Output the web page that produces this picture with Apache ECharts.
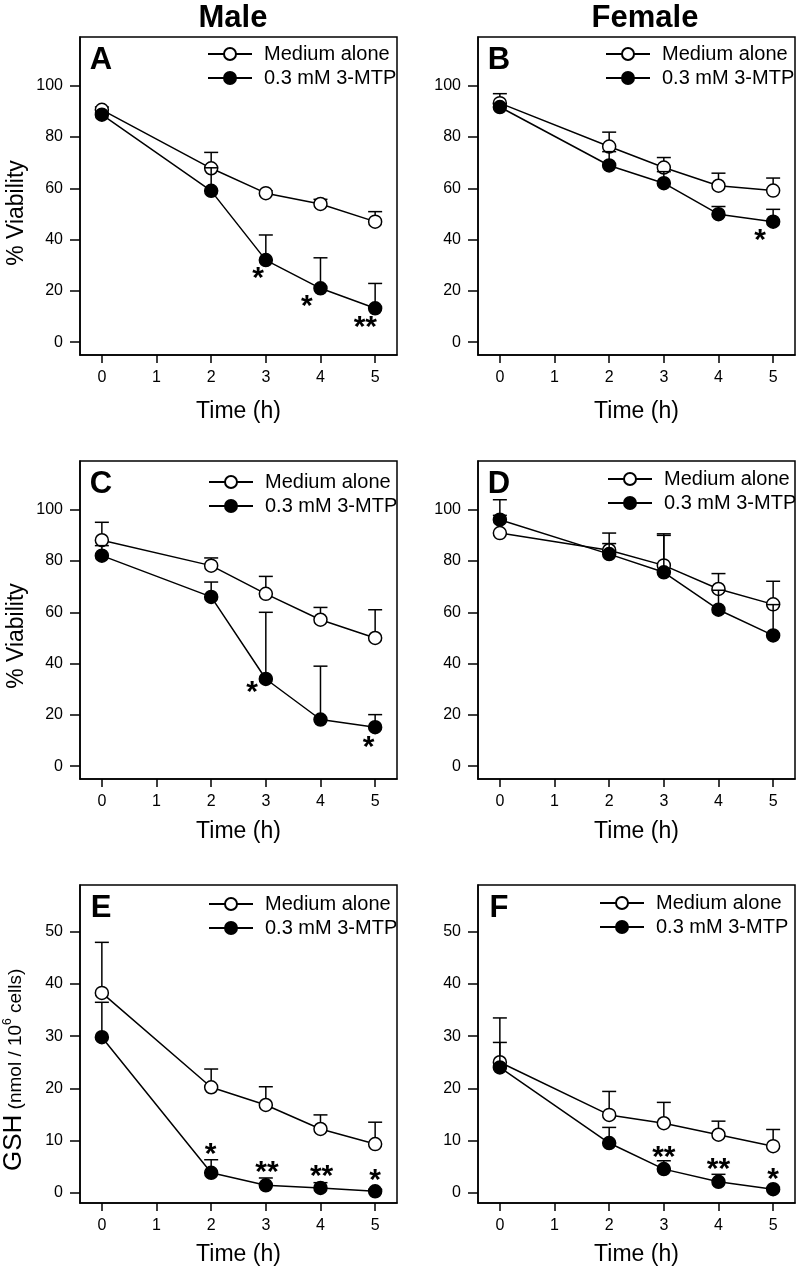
<!DOCTYPE html>
<html><head><meta charset="utf-8">
<script src="https://cdn.jsdelivr.net/npm/echarts@6/dist/echarts.min.js"></script>
<style>html,body{margin:0;padding:0;background:#fff}#c{width:800px;height:1278px}</style>
</head><body><div id="c"></div>
<script>
// ---------- data ----------
const times = [0, 2, 3, 4, 5];
const xTicks = [0, 1, 2, 3, 4, 5];
const viabilityTicks = [0, 20, 40, 60, 80, 100];
const gshTicks = [0, 10, 20, 30, 40, 50];
const seriesNames = ['Medium alone', '0.3 mM 3-MTP'];
const columnTitles = ['Male', 'Female'];
const panelLetters = ['A', 'B', 'C', 'D', 'E', 'F'];
const viabilityTitle = '% Viability';
const gshTitleParts = ['GSH', ' (nmol / 10', '6', ' cells)'];
const timeTitle = 'Time (h)';

// Panel A (male viability)
const A_medium = [90.6, 67.8, 58.1, 53.9, 47.0];
const A_medium_se = [1.1, 6.2, 0.9, 1.8, 3.9];
const A_mtp = [88.7, 59.0, 32.0, 21.0, 13.2];
const A_mtp_se = [0.8, 9.0, 9.8, 11.9, 9.7];
const A_star_x = [2.86, 3.75, 4.82];
const A_star_y = [26.8, 15.7, 7.5];
const A_star_text = ['*', '*', '**'];

// Panel B (female viability)
const B_medium = [93.2, 76.3, 68.1, 61.0, 59.1];
const B_medium_se = [3.7, 5.6, 3.9, 4.9, 4.9];
const B_mtp = [91.7, 68.9, 62.0, 49.9, 47.0];
const B_mtp_se = [1.3, 5.4, 4.5, 3.0, 4.8];
const B_star_x = [4.76];
const B_star_y = [41.5];
const B_star_text = ['*'];

// Panel C (male viability)
const C_medium = [88.1, 78.2, 67.2, 57.1, 50.0];
const C_medium_se = [7.0, 3.0, 6.8, 4.8, 11.0];
const C_mtp = [82.1, 66.0, 34.0, 18.2, 15.2];
const C_mtp_se = [3.9, 5.8, 26.0, 20.8, 4.9];
const C_star_x = [2.75, 4.88];
const C_star_y = [30.5, 9.1];
const C_star_text = ['*', '*'];

// Panel D (female viability)
const D_medium = [90.9, 84.2, 78.3, 69.1, 63.1];
const D_medium_se = [6.9, 2.6, 11.7, 6.0, 9.0];
const D_mtp = [96.1, 82.7, 75.6, 61.0, 51.0];
const D_mtp_se = [7.8, 8.2, 15.0, 7.6, 12.0];
const D_star_x = [];
const D_star_y = [];
const D_star_text = [];

// Panel E (male GSH)
const E_medium = [38.3, 20.2, 16.8, 12.2, 9.3];
const E_medium_se = [9.7, 3.5, 3.5, 2.7, 4.2];
const E_mtp = [29.8, 3.8, 1.4, 0.9, 0.25];
const E_mtp_se = [6.7, 2.5, 1.4, 1.0, 0.35];
const E_star_x = [1.99, 3.02, 4.02, 5.0];
const E_star_y = [8.3, 4.8, 4.0, 3.3];
const E_star_text = ['*', '**', '**', '*'];

// Panel F (female GSH)
const F_medium = [25.0, 14.9, 13.3, 11.1, 8.9];
const F_medium_se = [8.5, 4.5, 4.0, 2.6, 3.2];
const F_mtp = [24.0, 9.5, 4.5, 2.06, 0.65];
const F_mtp_se = [4.8, 3.0, 1.6, 1.44, 0.35];
const F_star_x = [3.0, 4.0, 5.0];
const F_star_y = [7.7, 5.3, 3.5];
const F_star_text = ['**', '**', '*'];

// ---------- build ----------
const FONT = '"Liberation Sans", Arial, Helvetica, sans-serif';
const panels = [
  {medium: A_medium, mediumSe: A_medium_se, mtp: A_mtp, mtpSe: A_mtp_se, sx: A_star_x, sy: A_star_y, st: A_star_text, kind: 'v'},
  {medium: B_medium, mediumSe: B_medium_se, mtp: B_mtp, mtpSe: B_mtp_se, sx: B_star_x, sy: B_star_y, st: B_star_text, kind: 'v'},
  {medium: C_medium, mediumSe: C_medium_se, mtp: C_mtp, mtpSe: C_mtp_se, sx: C_star_x, sy: C_star_y, st: C_star_text, kind: 'v'},
  {medium: D_medium, mediumSe: D_medium_se, mtp: D_mtp, mtpSe: D_mtp_se, sx: D_star_x, sy: D_star_y, st: D_star_text, kind: 'v'},
  {medium: E_medium, mediumSe: E_medium_se, mtp: E_mtp, mtpSe: E_mtp_se, sx: E_star_x, sy: E_star_y, st: E_star_text, kind: 'g'},
  {medium: F_medium, mediumSe: F_medium_se, mtp: F_mtp, mtpSe: F_mtp_se, sx: F_star_x, sy: F_star_y, st: F_star_text, kind: 'g'}
];
const layout = [
  {left: 80,  top: 37,  legL: 207, legC: 54,  xGap: 45, yTitleY: 213},
  {left: 478, top: 37,  legL: 605, legC: 54,  xGap: 45},
  {left: 80,  top: 461, legL: 208, legC: 482, xGap: 41, yTitleY: 636},
  {left: 478, top: 461, legL: 607, legC: 479, xGap: 41},
  {left: 80,  top: 885, legL: 208, legC: 904, xGap: 40, yTitleY: 1171},
  {left: 478, top: 885, legL: 599, legC: 903, xGap: 40}
];
const GW = 317, GH = 318;

const measureCtx = document.createElement('canvas').getContext('2d');
function textWidth(t, size) { measureCtx.font = size + 'px ' + FONT; return measureCtx.measureText(t).width; }

function errRender(params, api) {
  const x = api.value(0), y = api.value(1), e = api.value(2);
  const p0 = api.coord([x, y]);
  const p1 = api.coord([x, y + e]);
  const hw = 7;
  return {type: 'group', children: [
    {type: 'line', shape: {x1: p0[0], y1: p0[1], x2: p1[0], y2: p1[1]}, style: {stroke: '#000', lineWidth: 1.5}},
    {type: 'line', shape: {x1: p1[0] - hw, y1: p1[1], x2: p1[0] + hw, y2: p1[1]}, style: {stroke: '#000', lineWidth: 1.5}}
  ]};
}

const grid = [], xAxis = [], yAxis = [], series = [], legend = [], graphic = [];
panels.forEach((p, i) => {
  const L = layout[i];
  grid.push({left: L.left, top: L.top, width: GW, height: GH, show: true, borderColor: '#000', borderWidth: 1.5, backgroundColor: 'transparent'});
  xAxis.push({
    gridIndex: i, type: 'value', min: -0.4, max: 5.4,
    axisLine: {show: true, onZero: false, lineStyle: {color: '#000', width: 1.5}},
    axisTick: {show: true, customValues: xTicks, length: 8, lineStyle: {color: '#000', width: 1.5}},
    axisLabel: {customValues: xTicks, margin: 15, fontSize: 16, color: '#000', fontFamily: FONT},
    splitLine: {show: false},
    name: timeTitle, nameLocation: 'middle', nameGap: L.xGap,
    nameTextStyle: {fontSize: 23, color: '#000', fontFamily: FONT}
  });
  const isV = p.kind === 'v';
  const ticks = isV ? viabilityTicks : gshTicks;
  yAxis.push({
    gridIndex: i, type: 'value', min: isV ? -5 : -2, max: isV ? 119 : 59,
    axisLine: {show: true, onZero: false, lineStyle: {color: '#000', width: 1.5}},
    axisTick: {show: true, customValues: ticks, length: 10, lineStyle: {color: '#000', width: 1.5}},
    axisLabel: {customValues: ticks, margin: 17, fontSize: 16, color: '#000', fontFamily: FONT},
    splitLine: {show: false}
  });

  if (i % 2 === 0) {
    if (isV) {
      graphic.push({type: 'text', x: 17, y: L.yTitleY, rotation: Math.PI / 2,
        style: {text: viabilityTitle, font: '23px ' + FONT, fill: '#000', align: 'center', verticalAlign: 'middle'}});
    } else {
      // rotated title built from pieces; each piece starts where the previous one ends (upwards)
      const sizes = [26, 19, 12, 19];
      const xs = [14, 16, 8, 16];
      let y = L.yTitleY;
      gshTitleParts.forEach((t, k) => {
        graphic.push({type: 'text', x: xs[k], y: y, rotation: Math.PI / 2,
          style: {text: t, font: sizes[k] + 'px ' + FONT, fill: '#000', align: 'left', verticalAlign: 'middle'}});
        y -= textWidth(t, sizes[k]);
      });
    }
  }

  series.push({
    type: 'custom', xAxisIndex: i, yAxisIndex: i, z: 2, silent: true,
    renderItem: errRender, encode: {x: 0, y: 1},
    data: times.map((t, j) => [t, p.medium[j], p.mediumSe[j]])
  });
  series.push({
    type: 'line', name: seriesNames[0], xAxisIndex: i, yAxisIndex: i, z: 3,
    symbol: 'circle', symbolSize: 13, showAllSymbol: true,
    itemStyle: {color: '#fff', borderColor: '#000', borderWidth: 1.5},
    lineStyle: {color: '#000', width: 1.5},
    emphasis: {disabled: true},
    data: times.map((t, j) => [t, p.medium[j]])
  });
  series.push({
    type: 'custom', xAxisIndex: i, yAxisIndex: i, z: 4, silent: true,
    renderItem: errRender, encode: {x: 0, y: 1},
    data: times.map((t, j) => [t, p.mtp[j], p.mtpSe[j]])
  });
  series.push({
    type: 'line', name: seriesNames[1], xAxisIndex: i, yAxisIndex: i, z: 5,
    symbol: 'circle', symbolSize: 13, showAllSymbol: true,
    itemStyle: {color: '#000', borderColor: '#000', borderWidth: 1.5},
    lineStyle: {color: '#000', width: 1.5},
    emphasis: {disabled: true},
    data: times.map((t, j) => [t, p.mtp[j]])
  });
  series.push({
    type: 'scatter', xAxisIndex: i, yAxisIndex: i, z: 6, silent: true,
    symbolSize: 0,
    emphasis: {disabled: true},
    label: {show: true, position: 'inside', formatter: '{b}', fontSize: 30, fontWeight: 'bold', color: '#000', opacity: 1, textBorderWidth: 0, fontFamily: FONT, offset: [0, 5]},
    data: p.sx.map((x, j) => ({value: [x, p.sy[j]], name: p.st[j]}))
  });

  legend.push({
    orient: 'vertical', left: L.legL, top: L.legC - 10, padding: 0,
    itemWidth: 44, itemHeight: 15, itemGap: 4, selectedMode: false,
    data: seriesNames,
    textStyle: {fontSize: 20, lineHeight: 20, color: '#000', fontFamily: FONT, padding: [0, 0, 0, 7]}
  });

  graphic.push({
    type: 'text', x: L.left + 21, y: L.top + 23,
    style: {text: panelLetters[i], font: 'bold 31px ' + FONT, fill: '#000', align: 'center', verticalAlign: 'middle'}
  });
});
graphic.push({type: 'text', x: 233, y: 18, style: {text: columnTitles[0], font: 'bold 31px ' + FONT, fill: '#000', align: 'center', verticalAlign: 'middle'}});
graphic.push({type: 'text', x: 645, y: 18, style: {text: columnTitles[1], font: 'bold 31px ' + FONT, fill: '#000', align: 'center', verticalAlign: 'middle'}});

const chart = echarts.init(document.getElementById('c'), null, {renderer: 'canvas'});
chart.setOption({
  animation: false,
  backgroundColor: '#fff',
  textStyle: {fontFamily: FONT},
  grid, xAxis, yAxis, series, legend, graphic
});
</script></body></html>
